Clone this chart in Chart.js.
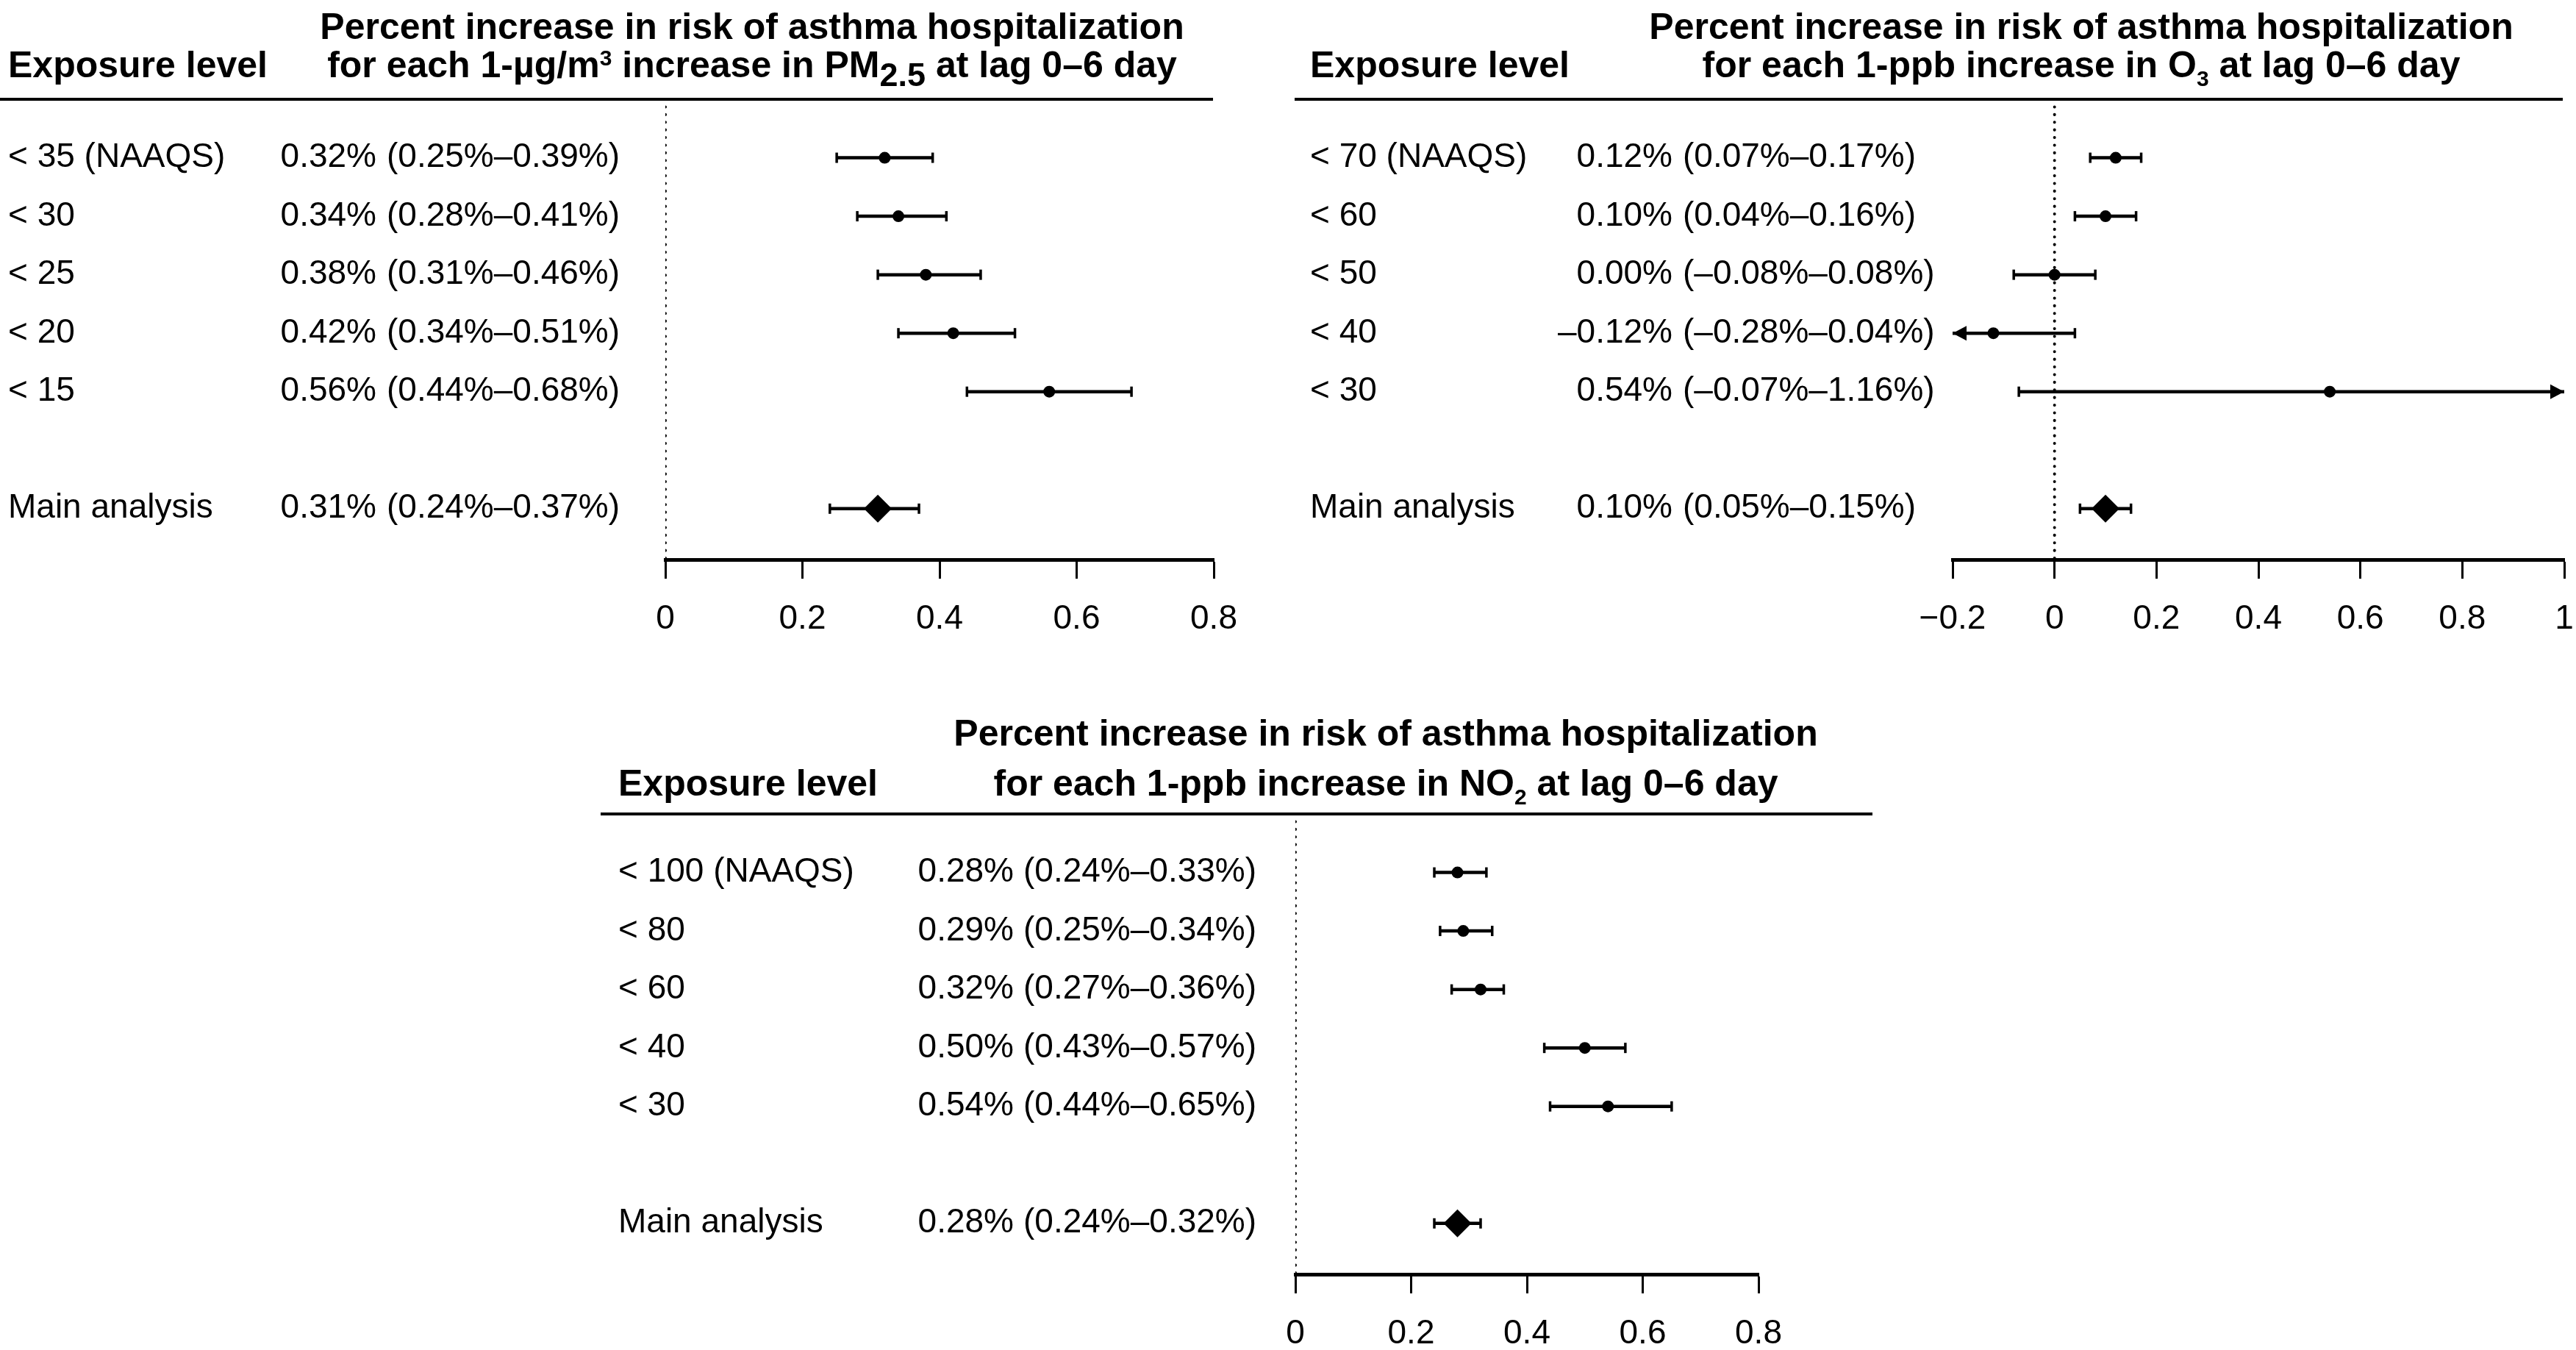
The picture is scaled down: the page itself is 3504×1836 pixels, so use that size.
<!DOCTYPE html>
<html>
<head>
<meta charset="utf-8">
<title>Asthma hospitalization risk by exposure level</title>
<script src="https://cdn.jsdelivr.net/npm/chart.js@4.4.1/dist/chart.umd.min.js"></script>
<style>
  html, body { margin: 0; padding: 0; background: #fff; }
  body { width: 3504px; height: 1836px; position: relative; overflow: hidden; }
  canvas { position: absolute; }
</style>
</head>
<body>
<canvas id="pmChart"></canvas>
<canvas id="o3Chart"></canvas>
<canvas id="no2Chart"></canvas>
<script>
// rows 0-4 are the exposure cut-offs, row 6 is the main analysis (row 5 stays empty)
const rowSlots = [0, 1, 2, 3, 4, 6];

const pmLabels = ['< 35 (NAAQS)', '< 30', '< 25', '< 20', '< 15', 'Main analysis'];
const pmEst = [0.32, 0.34, 0.38, 0.42, 0.56, 0.31];
const pmLow = [0.25, 0.28, 0.31, 0.34, 0.44, 0.24];
const pmHigh = [0.39, 0.41, 0.46, 0.51, 0.68, 0.37];
const pmTicks = [0, 0.2, 0.4, 0.6, 0.8];

const o3Labels = ['< 70 (NAAQS)', '< 60', '< 50', '< 40', '< 30', 'Main analysis'];
const o3Est = [0.12, 0.10, 0.00, -0.12, 0.54, 0.10];
const o3Low = [0.07, 0.04, -0.08, -0.28, -0.07, 0.05];
const o3High = [0.17, 0.16, 0.08, 0.04, 1.16, 0.15];
const o3Ticks = [-0.2, 0, 0.2, 0.4, 0.6, 0.8, 1];

const no2Labels = ['< 100 (NAAQS)', '< 80', '< 60', '< 40', '< 30', 'Main analysis'];
const no2Est = [0.28, 0.29, 0.32, 0.50, 0.54, 0.28];
const no2Low = [0.24, 0.25, 0.27, 0.43, 0.44, 0.24];
const no2High = [0.33, 0.34, 0.36, 0.57, 0.65, 0.32];
const no2Ticks = [0, 0.2, 0.4, 0.6, 0.8];

const titleTop = 'Percent increase in risk of asthma hospitalization';
const pmTitle = [
  { t: 'for each 1-µg/m' }, { t: '3', scale: 0.6, dy: -16 },
  { t: ' increase in PM' }, { t: '2.5', scale: 0.9, dy: 12 }, { t: ' at lag 0–6 day' }
];
const o3Title = [{ t: 'for each 1-ppb increase in O' }, { t: '3', scale: 0.6, dy: 12 }, { t: ' at lag 0–6 day' }];
const no2Title = [{ t: 'for each 1-ppb increase in NO' }, { t: '2', scale: 0.6, dy: 12 }, { t: ' at lag 0–6 day' }];

const FONT = '"Liberation Sans", Arial, Helvetica, sans-serif';
const TEXT_PX = 46;
const HEAD_PX = 50;
const Y_MAX = 6.87;

const panels = [
  { id: 'pmChart', left: 0, top: 0, width: 1720, height: 870,
    plotLeft: 905, plotRight: 1651, plotTop: 135, plotBottom: 761,
    ruleFrom: 0, ruleTo: 1650, labelX: 11, estX: 512, ciX: 526, titleX: 1023, t1: -82, t2: -30,
    labels: pmLabels, est: pmEst, low: pmLow, high: pmHigh, ticks: pmTicks, title: pmTitle },
  { id: 'o3Chart', left: 1740, top: 0, width: 1820, height: 870,
    plotLeft: 2656, plotRight: 3488, plotTop: 135, plotBottom: 761,
    ruleFrom: 1761, ruleTo: 3486, labelX: 1782, estX: 2275, ciX: 2289, titleX: 2831, t1: -82, t2: -30,
    labels: o3Labels, est: o3Est, low: o3Low, high: o3High, ticks: o3Ticks, title: o3Title },
  { id: 'no2Chart', left: 800, top: 960, width: 1800, height: 876,
    plotLeft: 1762, plotRight: 2392, plotTop: 1107, plotBottom: 1733,
    ruleFrom: 817, ruleTo: 2547, labelX: 841, estX: 1379, ciX: 1392, titleX: 1885, t1: -93, t2: -25,
    labels: no2Labels, est: no2Est, low: no2Low, high: no2High, ticks: no2Ticks, title: no2Title }
];

function pct(v) {
  const s = Math.abs(v).toFixed(2) + '%';
  return v < 0 ? '–' + s : s;
}

function tickText(v) {
  const r = Math.round(v * 10) / 10;
  if (r === 0) return '0';
  return (r < 0 ? '\u2212' : '') + String(Math.abs(r));
}

function drawRuns(ctx, runs, cx, baseY) {
  const fontFor = r => 'bold ' + Math.round(HEAD_PX * (r.scale || 1)) + 'px ' + FONT;
  let total = 0;
  runs.forEach(r => { ctx.font = fontFor(r); total += ctx.measureText(r.t).width; });
  let x = cx - total / 2;
  ctx.textAlign = 'left';
  ctx.textBaseline = 'alphabetic';
  runs.forEach(r => {
    ctx.font = fontFor(r);
    ctx.fillText(r.t, x, baseY + (r.dy || 0));
    x += ctx.measureText(r.t).width;
  });
}

// table text, header rule and titles, placed from the chart's own y scale
function textPlugin(p) {
  return {
    id: 'forestText',
    afterDraw(chart) {
      const ctx = chart.ctx;
      const y = chart.scales.y;
      const hy = y.getPixelForValue(-1);
      ctx.save();
      ctx.fillStyle = '#000';
      ctx.strokeStyle = '#000';
      ctx.lineWidth = 4;
      ctx.beginPath();
      ctx.moveTo(p.ruleFrom - p.left, hy);
      ctx.lineTo(p.ruleTo - p.left, hy);
      ctx.stroke();

      drawRuns(ctx, [{ t: titleTop }], p.titleX - p.left, hy + p.t1);
      drawRuns(ctx, p.title, p.titleX - p.left, hy + p.t2);
      ctx.font = 'bold ' + HEAD_PX + 'px ' + FONT;
      ctx.textAlign = 'left';
      ctx.fillText('Exposure level', p.labelX - p.left, hy + p.t2);

      ctx.font = TEXT_PX + 'px ' + FONT;
      ctx.textBaseline = 'middle';
      p.labels.forEach((lab, i) => {
        const py = y.getPixelForValue(rowSlots[i]);
        ctx.textAlign = 'left';
        ctx.fillText(lab, p.labelX - p.left, py);
        ctx.textAlign = 'right';
        ctx.fillText(pct(p.est[i]), p.estX - p.left, py);
        ctx.textAlign = 'left';
        ctx.fillText('(' + pct(p.low[i]) + '–' + pct(p.high[i]) + ')', p.ciX - p.left, py);
      });
      ctx.restore();
    }
  };
}

// arrow heads where an interval runs past the axis range
function arrowPlugin(p) {
  return {
    id: 'arrowHeads',
    afterDatasetsDraw(chart) {
      const ctx = chart.ctx, x = chart.scales.x, y = chart.scales.y;
      const head = (tip, py, dir) => {
        ctx.beginPath();
        ctx.moveTo(tip, py);
        ctx.lineTo(tip - dir * 19, py - 10);
        ctx.lineTo(tip - dir * 19, py + 10);
        ctx.closePath();
        ctx.fill();
      };
      ctx.save();
      ctx.fillStyle = '#000';
      p.low.forEach((lo, i) => {
        const py = y.getPixelForValue(rowSlots[i]);
        if (lo < x.min) head(x.getPixelForValue(x.min), py, -1);
        if (p.high[i] > x.max) head(x.getPixelForValue(x.max), py, 1);
      });
      ctx.restore();
    }
  };
}

function buildDatasets(p) {
  const xMin = p.ticks[0], xMax = p.ticks[p.ticks.length - 1];
  const sets = [];
  sets.push({
    data: [{ x: 0, y: -1 }, { x: 0, y: Y_MAX }],
    showLine: true, pointRadius: 0, borderColor: '#000', borderWidth: 4,
    borderDash: [0.1, 10.3], borderCapStyle: 'round', order: 10
  });
  p.est.forEach((e, i) => {
    sets.push({
      data: [{ x: Math.max(p.low[i], xMin), y: rowSlots[i] }, { x: Math.min(p.high[i], xMax), y: rowSlots[i] }],
      showLine: true, pointRadius: 0, borderColor: '#000', borderWidth: 4.5, order: 5
    });
  });
  const caps = [];
  p.est.forEach((e, i) => {
    if (p.low[i] >= xMin) caps.push({ x: p.low[i], y: rowSlots[i] });
    if (p.high[i] <= xMax) caps.push({ x: p.high[i], y: rowSlots[i] });
  });
  sets.push({
    data: caps, pointStyle: 'line', pointRotation: 90, pointRadius: 7,
    pointBorderColor: '#000', pointBorderWidth: 3.5, order: 4
  });
  sets.push({
    data: p.est.map((e, i) => ({ x: e, y: rowSlots[i] })),
    pointStyle: rowSlots.map(s => (s === 6 ? 'rectRot' : 'circle')),
    pointRadius: rowSlots.map(s => (s === 6 ? 19 : 8)),
    pointBackgroundColor: '#000', pointBorderColor: '#000', pointBorderWidth: 0, order: 1
  });
  return sets;
}

panels.forEach(p => {
  const canvas = document.getElementById(p.id);
  canvas.width = p.width;
  canvas.height = p.height;
  canvas.style.left = p.left + 'px';
  canvas.style.top = p.top + 'px';

  new Chart(canvas.getContext('2d'), {
    type: 'scatter',
    data: { datasets: buildDatasets(p) },
    options: {
      responsive: false,
      animation: false,
      devicePixelRatio: 1,
      events: [],
      layout: {
        padding: {
          left: p.plotLeft - p.left,
          right: p.left + p.width - p.plotRight,
          top: p.plotTop - p.top,
          bottom: p.top + p.height - p.plotBottom - 100
        }
      },
      plugins: { legend: { display: false }, tooltip: { enabled: false } },
      scales: {
        x: {
          type: 'linear',
          min: p.ticks[0],
          max: p.ticks[p.ticks.length - 1],
          afterBuildTicks: s => { s.ticks = p.ticks.map(v => ({ value: v })); },
          afterFit: s => { s.height = 100; },
          border: { display: true, color: '#000', width: 5 },
          grid: { drawOnChartArea: false, drawTicks: true, tickLength: 26, tickWidth: 3, tickColor: '#000', color: '#000' },
          ticks: {
            color: '#000', padding: 28, maxRotation: 0, autoSkip: false,
            font: { family: FONT, size: TEXT_PX },
            callback: v => tickText(v)
          }
        },
        y: { type: 'linear', min: -1, max: Y_MAX, reverse: true, display: false }
      }
    },
    plugins: [textPlugin(p), arrowPlugin(p)]
  });
});
</script>
</body>
</html>
